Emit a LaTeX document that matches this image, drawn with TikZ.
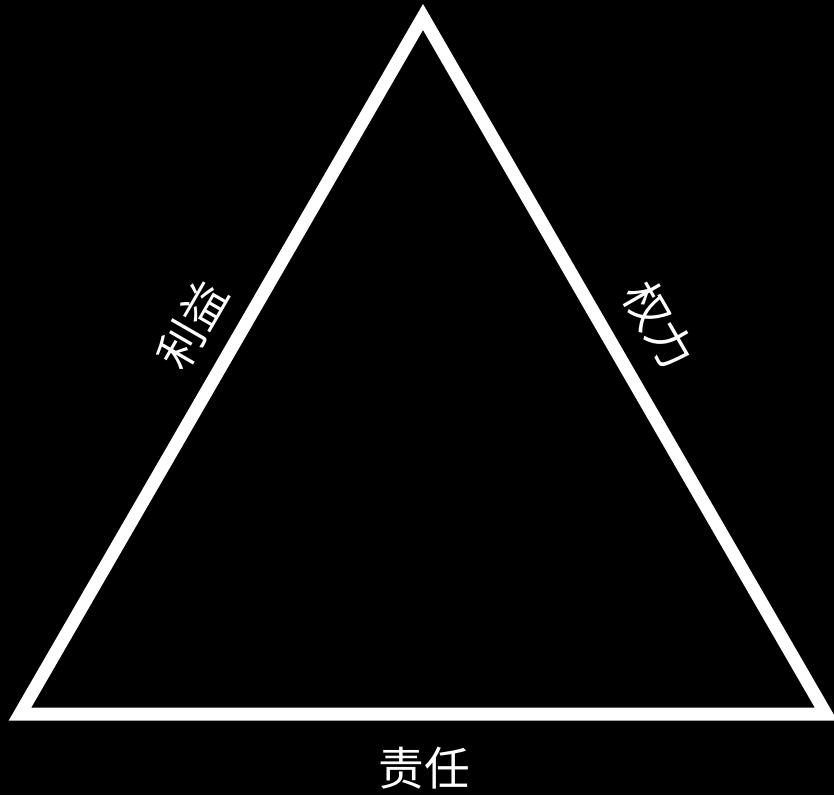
\documentclass[tikz,border=0pt]{standalone}
\usepackage{fontspec}
\newfontfamily\cjk{Noto Sans CJK SC}

\tikzset{
  side/.style={draw=white, line width=13*0.02cm, line join=miter},
  lbl/.style={text=white, font=\cjk\fontsize{26}{30}\selectfont, inner sep=0pt}
}

\begin{document}
\begin{tikzpicture}[x=0.02cm, y=-0.02cm]
    % background
    \fill[black] (0,0) rectangle (834,795);
    \useasboundingbox (0,0) rectangle (834,795);
    \begin{scope}
      \clip (0,0) rectangle (834,795);
      % vertices
      \coordinate (apex) at (423,17);
      \coordinate (bl) at (20,714);
      \coordinate (br) at (826,714);
      % sides
      \draw[side] (bl) -- (apex) -- (br) -- cycle;
    \end{scope}
    % labels
    \node[lbl, rotate=60] (liyi) at (192,325) {利益};
    \node[lbl, rotate=-60] (quanli) at (659,325) {权力};
    \node[lbl] (zeren) at (424,768) {责任};
\end{tikzpicture}
\end{document}
